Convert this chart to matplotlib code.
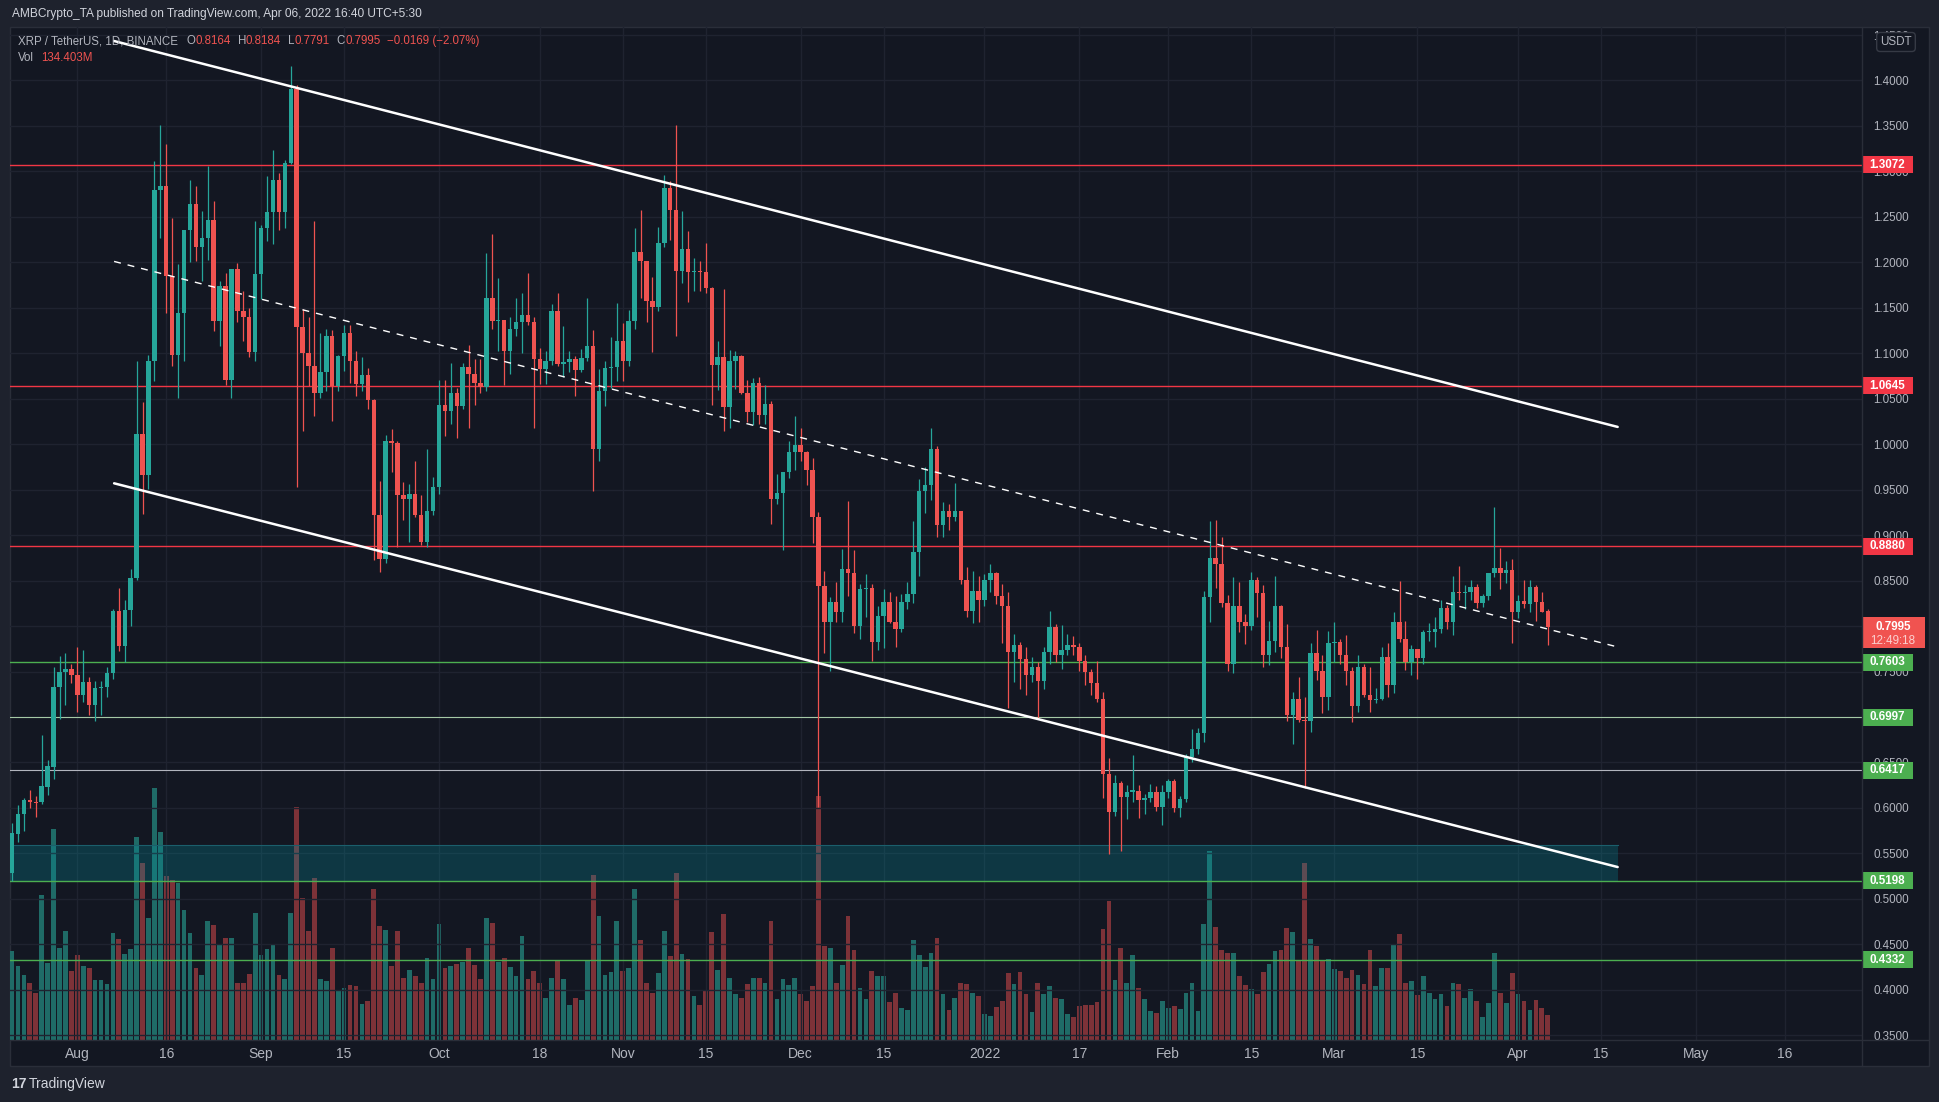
import matplotlib
matplotlib.use('Agg')
import matplotlib.pyplot as plt
import matplotlib.dates as mdates
import matplotlib.transforms as mtransforms
from matplotlib.patches import Rectangle
from matplotlib.lines import Line2D
import numpy as np
import pandas as pd

plt.rcParams['font.family'] = ['Liberation Sans', 'DejaVu Sans']

# daily XRP/USDT candles, 2021-07-21 .. 2022-04-06
dates = pd.date_range('2021-07-21', '2022-04-06', freq='D')
opens = [0.528, 0.571, 0.593, 0.609, 0.607, 0.606, 0.623, 0.645, 0.733, 0.749, 0.753,
         0.746, 0.724, 0.738, 0.713, 0.732, 0.733, 0.748, 0.817, 0.778, 0.818, 0.853, 1.011, 0.966, 1.091, 1.280,
         1.284, 1.185, 1.098, 1.144, 1.236, 1.264, 1.217, 1.227, 1.247, 1.136, 1.174, 1.071, 1.193, 1.147, 1.140, 1.101,
         1.187, 1.238, 1.255, 1.291, 1.255, 1.309, 1.391, 1.129, 1.100, 1.086, 1.056, 1.079, 1.119, 1.064, 1.097,
         1.122, 1.091, 1.066, 1.076, 1.049, 0.922, 0.874, 1.004, 1.001, 0.944, 0.940, 0.945, 0.922, 0.892, 0.927,
         0.953, 1.043, 1.036, 1.056, 1.042, 1.085, 1.077, 1.067, 1.063, 1.161, 1.135, 1.137, 1.102, 1.127, 1.134, 1.142,
         1.134, 1.094, 1.083, 1.091, 1.146, 1.088, 1.090, 1.094, 1.082, 1.095, 1.108, 0.995, 1.058, 1.084, 1.085,
         1.113, 1.091, 1.136, 1.211, 1.202, 1.158, 1.151, 1.221, 1.282, 1.258, 1.191, 1.215, 1.189, 1.190, 1.189,
         1.172, 1.087, 1.096, 1.041, 1.091, 1.097, 1.056, 1.035, 1.067, 1.032, 1.044, 0.940, 0.946, 0.969,
         0.991, 0.999, 0.991, 0.972, 0.920, 0.844, 0.804, 0.826, 0.815, 0.863, 0.858, 0.800, 0.841, 0.842, 0.782,
         0.811, 0.827, 0.805, 0.797, 0.826, 0.835, 0.881, 0.948, 0.955, 0.995, 0.911, 0.926, 0.920, 0.927, 0.851,
         0.817, 0.839, 0.829, 0.851, 0.858, 0.833, 0.822, 0.772, 0.779, 0.764, 0.746, 0.755, 0.740, 0.771,
         0.799, 0.768, 0.774, 0.779, 0.777, 0.762, 0.750, 0.737, 0.720, 0.637, 0.596, 0.627, 0.612, 0.618, 0.619,
         0.609, 0.611, 0.618, 0.601, 0.618, 0.630, 0.600, 0.610, 0.656, 0.665, 0.682, 0.832, 0.875, 0.868, 0.825,
         0.758, 0.822, 0.805, 0.800, 0.851, 0.836, 0.768, 0.784, 0.822, 0.777, 0.702, 0.720, 0.697, 0.696,
         0.770, 0.751, 0.722, 0.781, 0.783, 0.768, 0.751, 0.712, 0.755, 0.724, 0.719, 0.720, 0.766, 0.735, 0.804,
         0.786, 0.760, 0.775, 0.765, 0.793, 0.794, 0.797, 0.820, 0.805, 0.837, 0.836, 0.837, 0.843, 0.825, 0.833,
         0.858, 0.864, 0.858, 0.862, 0.815, 0.828, 0.824, 0.843, 0.826, 0.8164]
highs = [0.583, 0.603, 0.611, 0.620, 0.613, 0.680, 0.653, 0.755, 0.767, 0.770, 0.758,
         0.777, 0.774, 0.744, 0.740, 0.740, 0.755, 0.819, 0.842, 0.829, 0.863, 1.091, 1.046, 1.098, 1.311, 1.351,
         1.330, 1.249, 1.198, 1.236, 1.291, 1.284, 1.257, 1.306, 1.267, 1.179, 1.188, 1.193, 1.199, 1.169, 1.150, 1.245,
         1.241, 1.295, 1.324, 1.298, 1.313, 1.416, 1.395, 1.149, 1.140, 1.246, 1.122, 1.127, 1.126, 1.098, 1.131,
         1.131, 1.103, 1.096, 1.084, 1.050, 0.960, 1.010, 1.017, 1.003, 0.958, 0.956, 0.982, 0.944, 0.995, 0.964,
         1.071, 1.071, 1.089, 1.062, 1.089, 1.109, 1.094, 1.094, 1.210, 1.231, 1.183, 1.137, 1.140, 1.161, 1.166, 1.188,
         1.140, 1.106, 1.102, 1.154, 1.166, 1.130, 1.102, 1.097, 1.105, 1.161, 1.126, 1.083, 1.091, 1.118, 1.155,
         1.133, 1.148, 1.238, 1.258, 1.202, 1.184, 1.239, 1.296, 1.289, 1.351, 1.257, 1.234, 1.205, 1.201, 1.221,
         1.173, 1.113, 1.171, 1.104, 1.102, 1.098, 1.071, 1.073, 1.074, 1.065, 1.048, 0.967, 0.969, 1.003,
         1.031, 1.018, 0.993, 0.985, 0.925, 0.861, 0.832, 0.848, 0.885, 0.937, 0.884, 0.846, 0.857, 0.846, 0.822,
         0.841, 0.837, 0.833, 0.835, 0.848, 0.915, 0.962, 0.975, 1.018, 0.998, 0.936, 0.934, 0.957, 0.927, 0.865,
         0.861, 0.855, 0.857, 0.868, 0.859, 0.846, 0.837, 0.791, 0.782, 0.777, 0.766, 0.760, 0.777, 0.817,
         0.802, 0.801, 0.791, 0.789, 0.781, 0.768, 0.753, 0.762, 0.728, 0.655, 0.636, 0.630, 0.625, 0.658, 0.625,
         0.615, 0.626, 0.624, 0.625, 0.632, 0.632, 0.613, 0.659, 0.687, 0.688, 0.839, 0.915, 0.917, 0.898, 0.834,
         0.854, 0.848, 0.813, 0.860, 0.854, 0.845, 0.806, 0.855, 0.823, 0.802, 0.727, 0.744, 0.722, 0.781,
         0.796, 0.768, 0.795, 0.804, 0.786, 0.790, 0.755, 0.768, 0.758, 0.755, 0.732, 0.777, 0.781, 0.815, 0.850,
         0.806, 0.779, 0.775, 0.796, 0.803, 0.810, 0.829, 0.823, 0.855, 0.866, 0.845, 0.851, 0.846, 0.835, 0.858,
         0.931, 0.886, 0.872, 0.874, 0.834, 0.851, 0.851, 0.845, 0.837, 0.8184]
lows = [0.520, 0.562, 0.575, 0.600, 0.590, 0.604, 0.614, 0.632, 0.698, 0.713, 0.737,
        0.705, 0.717, 0.702, 0.696, 0.702, 0.722, 0.742, 0.773, 0.760, 0.800, 0.851, 0.923, 0.951, 1.069, 1.227,
        1.144, 1.086, 1.051, 1.091, 1.200, 1.202, 1.179, 1.203, 1.124, 1.108, 1.065, 1.051, 1.134, 1.113, 1.096, 1.092,
        1.160, 1.224, 1.220, 1.236, 1.238, 1.308, 0.953, 1.014, 1.064, 1.031, 1.051, 1.058, 1.025, 1.058, 1.080,
        1.067, 1.053, 1.058, 1.039, 0.873, 0.860, 0.869, 0.969, 0.887, 0.917, 0.893, 0.920, 0.889, 0.887, 0.922,
        0.945, 1.009, 1.022, 1.007, 1.039, 1.018, 1.043, 1.056, 1.058, 1.127, 1.102, 1.065, 1.077, 1.119, 1.100, 1.131,
        1.018, 1.066, 1.066, 1.087, 1.086, 1.074, 1.079, 1.053, 1.079, 1.091, 0.949, 0.982, 1.042, 1.062, 1.070,
        1.070, 1.086, 1.127, 1.161, 1.134, 1.101, 1.146, 1.217, 1.225, 1.119, 1.177, 1.156, 1.169, 1.169, 1.166,
        1.043, 1.060, 1.015, 1.018, 1.061, 1.055, 1.024, 1.021, 1.022, 1.022, 0.912, 0.934, 0.884, 0.963,
        0.972, 0.981, 0.955, 0.891, 0.601, 0.770, 0.751, 0.805, 0.805, 0.833, 0.792, 0.786, 0.810, 0.762, 0.774,
        0.776, 0.803, 0.777, 0.793, 0.819, 0.825, 0.855, 0.924, 0.939, 0.898, 0.898, 0.906, 0.915, 0.846, 0.810,
        0.803, 0.804, 0.822, 0.837, 0.824, 0.781, 0.710, 0.739, 0.731, 0.724, 0.739, 0.698, 0.731, 0.758,
        0.760, 0.753, 0.768, 0.768, 0.751, 0.735, 0.724, 0.717, 0.611, 0.549, 0.591, 0.553, 0.588, 0.606, 0.589,
        0.593, 0.606, 0.597, 0.581, 0.611, 0.596, 0.590, 0.606, 0.651, 0.659, 0.672, 0.804, 0.842, 0.821, 0.751,
        0.748, 0.794, 0.780, 0.796, 0.810, 0.755, 0.757, 0.771, 0.765, 0.696, 0.670, 0.694, 0.622, 0.684,
        0.741, 0.704, 0.708, 0.761, 0.758, 0.735, 0.695, 0.705, 0.722, 0.705, 0.715, 0.719, 0.722, 0.726, 0.782,
        0.752, 0.746, 0.742, 0.758, 0.784, 0.777, 0.792, 0.797, 0.790, 0.829, 0.819, 0.829, 0.820, 0.821, 0.829,
        0.854, 0.841, 0.847, 0.781, 0.809, 0.820, 0.815, 0.806, 0.815, 0.7791]
closes = [0.572, 0.593, 0.609, 0.607, 0.605, 0.624, 0.646, 0.733, 0.749, 0.753, 0.746,
          0.724, 0.738, 0.713, 0.732, 0.733, 0.748, 0.817, 0.778, 0.818, 0.853, 1.011, 0.966, 1.091, 1.280, 1.284,
          1.185, 1.098, 1.144, 1.236, 1.264, 1.217, 1.227, 1.247, 1.136, 1.174, 1.071, 1.193, 1.147, 1.140, 1.101, 1.187,
          1.238, 1.255, 1.291, 1.255, 1.309, 1.391, 1.129, 1.100, 1.086, 1.056, 1.079, 1.119, 1.064, 1.097, 1.122,
          1.091, 1.066, 1.076, 1.049, 0.922, 0.874, 1.004, 1.001, 0.944, 0.940, 0.945, 0.922, 0.892, 0.927, 0.953,
          1.043, 1.036, 1.056, 1.042, 1.085, 1.077, 1.067, 1.063, 1.161, 1.135, 1.137, 1.102, 1.127, 1.134, 1.142, 1.134,
          1.094, 1.083, 1.091, 1.146, 1.088, 1.090, 1.094, 1.082, 1.095, 1.108, 0.995, 1.058, 1.084, 1.085, 1.113,
          1.091, 1.136, 1.211, 1.202, 1.158, 1.151, 1.221, 1.282, 1.258, 1.191, 1.215, 1.189, 1.190, 1.189, 1.172,
          1.087, 1.096, 1.041, 1.091, 1.097, 1.056, 1.035, 1.067, 1.032, 1.044, 0.940, 0.946, 0.969, 0.991,
          0.999, 0.991, 0.972, 0.920, 0.844, 0.804, 0.826, 0.815, 0.863, 0.858, 0.800, 0.841, 0.842, 0.782, 0.811,
          0.827, 0.805, 0.797, 0.826, 0.835, 0.881, 0.948, 0.955, 0.995, 0.911, 0.926, 0.920, 0.927, 0.851, 0.817,
          0.839, 0.829, 0.851, 0.858, 0.833, 0.822, 0.772, 0.779, 0.764, 0.746, 0.755, 0.740, 0.771, 0.799,
          0.768, 0.774, 0.779, 0.777, 0.762, 0.750, 0.737, 0.720, 0.637, 0.596, 0.627, 0.612, 0.618, 0.619, 0.609,
          0.611, 0.618, 0.601, 0.618, 0.630, 0.600, 0.610, 0.656, 0.665, 0.682, 0.832, 0.875, 0.868, 0.825, 0.758,
          0.822, 0.805, 0.800, 0.851, 0.836, 0.768, 0.784, 0.822, 0.777, 0.702, 0.720, 0.697, 0.696, 0.770,
          0.751, 0.722, 0.781, 0.783, 0.768, 0.751, 0.712, 0.755, 0.724, 0.719, 0.720, 0.766, 0.735, 0.804, 0.786,
          0.760, 0.775, 0.765, 0.793, 0.794, 0.797, 0.820, 0.805, 0.837, 0.836, 0.837, 0.843, 0.825, 0.833, 0.858,
          0.864, 0.858, 0.862, 0.815, 0.828, 0.824, 0.843, 0.826, 0.816, 0.7995]
# volume in millions
volumes = [477, 396, 349, 309, 252, 780, 413, 1132, 497, 585, 370,
           457, 396, 386, 323, 323, 299, 575, 541, 460, 487, 1089, 954, 655, 1357, 1116,
           880, 860, 843, 699, 575, 386, 349, 638, 618, 514, 551, 548, 306, 306, 353, 685,
           457, 487, 511, 349, 326, 685, 1250, 766, 585, 870, 326, 316, 494, 269, 282,
           296, 289, 192, 208, 810, 612, 591, 396, 585, 336, 376, 343, 306, 440, 326,
           622, 386, 396, 407, 417, 494, 403, 326, 655, 628, 417, 440, 390, 343, 558, 329,
           373, 309, 228, 336, 430, 326, 188, 228, 215, 430, 887, 665, 349, 363, 638,
           370, 386, 810, 538, 309, 255, 360, 585, 450, 900, 460, 433, 235, 188, 262,
           578, 376, 675, 336, 245, 225, 299, 333, 336, 306, 638, 218, 326, 296,
           333, 245, 208, 289, 1310, 504, 494, 309, 403, 665, 484, 279, 218, 370, 343,
           343, 202, 255, 171, 161, 538, 457, 390, 467, 551, 245, 161, 228, 309, 299,
           255, 235, 138, 128, 175, 208, 360, 299, 363, 245, 148, 306, 245, 289,
           225, 218, 138, 121, 181, 188, 188, 202, 595, 746, 323, 497, 309, 457, 282,
           218, 155, 144, 208, 171, 181, 165, 255, 306, 155, 622, 1015, 605, 484, 467,
           467, 343, 296, 272, 245, 363, 407, 477, 484, 601, 578, 423, 954, 541,
           504, 430, 437, 380, 370, 333, 376, 349, 299, 484, 289, 386, 386, 511, 568,
           306, 316, 242, 343, 255, 218, 245, 181, 309, 299, 228, 272, 208, 121, 198,
           467, 255, 198, 360, 245, 208, 161, 215, 171, 134.4]

price_ticks = np.arange(0.35, 1.4501, 0.05)
hidden_ticks = [0.70, 0.80]   # fully covered by level badges
time_tick_dates = ['2021-08-01', '2021-08-16', '2021-09-01', '2021-09-15', '2021-10-01', '2021-10-18',
                   '2021-11-01', '2021-11-15', '2021-12-01', '2021-12-15', '2022-01-01', '2022-01-17',
                   '2022-02-01', '2022-02-15', '2022-03-01', '2022-03-15', '2022-04-01', '2022-04-15',
                   '2022-05-01', '2022-05-16']
time_tick_labels = ['Aug', '16', 'Sep', '15', 'Oct', '18', 'Nov', '15', 'Dec', '15', '2022', '17',
                    'Feb', '15', 'Mar', '15', 'Apr', '15', 'May', '16']

# drawn levels and channel
red_levels = [1.3072, 1.0645, 0.8880]
green_levels = [0.7603, 0.6997, 0.6417, 0.5198, 0.4332]
channel_start, channel_end = '2021-08-07 05:00', '2022-04-17 19:00'
upper_line = [1.4434, 1.0190]
middle_line = [1.2010, 0.7770]
lower_line = [0.9570, 0.5350]
zone_low, zone_high = 0.5198, 0.5594

BG = '#131722'
OUTER = '#1e222d'
UP = '#26a69a'
DOWN = '#ef5350'
TXT = '#b2b5be'

W, H = 1940, 1102
fig = plt.figure(figsize=(W / 100, H / 100), dpi=100, facecolor=OUTER)

# chart panel
fig.patches.append(Rectangle((10 / W, 1 - 1066 / H), 1919 / W, 1039 / H, transform=fig.transFigure,
                             facecolor=BG, edgecolor='#2a2e39', lw=1, zorder=-5))

ax = fig.add_axes([10 / W, 1 - 1040 / H, 1852 / W, 1013 / H])
axv = ax.twinx()
ax.set_zorder(axv.get_zorder() + 1)
ax.patch.set_visible(False)
axv.set_facecolor(BG)

x = mdates.date2num(dates)
o = np.array(opens)
h = np.array(highs)
l = np.array(lows)
c = np.array(closes)
up = c >= o
cols = np.where(up, UP, DOWN)
vcols = np.where(up, '#1f6b67', '#7d3238')

# volume
axv.bar(x, volumes, width=0.8, color=vcols, linewidth=0)
axv.set_ylim(0, 5446)
axv.set_yticks([])
for s in axv.spines.values():
    s.set_visible(False)

# levels
for lv in red_levels:
    ax.axhline(lv, color='#f23645', lw=1.0, zorder=2)
ax.axhline(green_levels[0], color='#4caf50', lw=1.0, zorder=2)
ax.axhline(green_levels[1], color='#a5c9a6', lw=0.8, zorder=2)
ax.axhline(green_levels[2], color='#b2b5be', lw=0.8, zorder=2)
ax.axhline(green_levels[3], color='#4caf50', lw=1.0, zorder=2)
ax.axhline(green_levels[4], color='#4caf50', lw=1.0, zorder=2)

# demand zone
z0 = mdates.date2num(pd.Timestamp('2021-07-15'))
z1 = mdates.date2num(pd.Timestamp(channel_end))
ax.add_patch(Rectangle((z0, zone_low), z1 - z0, zone_high - zone_low, facecolor='#0097a7', alpha=0.25,
                       edgecolor='none', zorder=1))
ax.plot([z0, z1], [zone_high, zone_high], color='#1b5f6c', lw=0.8, zorder=1)

# candles
ax.vlines(x, l, h, colors=cols, lw=0.9, zorder=3)
body = np.maximum(np.abs(c - o), 0.0012)
ax.bar(x, body, bottom=np.minimum(o, c), width=0.75, color=cols, linewidth=0, zorder=4)

# channel
cx = mdates.date2num([pd.Timestamp(channel_start), pd.Timestamp(channel_end)])
ax.plot(cx, upper_line, color='white', lw=1.8, zorder=5, solid_capstyle='round')
ax.plot(cx, lower_line, color='white', lw=1.8, zorder=5, solid_capstyle='round')
ax.plot(cx, middle_line, color='white', lw=1.0, ls=(0, (5, 5)), zorder=5)

# axes
x0 = mdates.date2num(pd.Timestamp('2021-08-01'))
ax.set_xlim(x0 - 11.35, x0 + 301.0)
ax.set_ylim(0.3448, 1.4588)
ax.set_yticks(price_ticks)
ax.set_yticklabels(['' if any(abs(t - ht) < 1e-6 for ht in hidden_ticks) else '%.4f' % t
                    for t in price_ticks])
ax.yaxis.tick_right()
ax.tick_params(axis='y', length=0, pad=8, labelsize=8.4, colors=TXT)
ax.set_xticks(mdates.date2num(pd.to_datetime(time_tick_dates)))
ax.set_xticklabels(time_tick_labels)
ax.tick_params(axis='x', length=0, pad=5, labelsize=10, colors=TXT)
for lab in ax.get_xticklabels():
    lab.set_family(['Liberation Sans Narrow', 'Liberation Sans', 'DejaVu Sans'])
ax.grid(True, color='#1f2330', lw=1.0, zorder=0)
axv.grid(False)
for s in ax.spines.values():
    s.set_visible(False)
ax.set_axisbelow(True)

# axis separators
fig.add_artist(Line2D([1862 / W, 1862 / W], [1 - 27 / H, 1 - 1066 / H], color='#2a2e39', lw=1))
fig.add_artist(Line2D([10 / W, 1929 / W], [1 - 1040 / H, 1 - 1040 / H], color='#2a2e39', lw=1))

# price badges
trans = mtransforms.blended_transform_factory(ax.transAxes, ax.transData)
bw = 51 / 1852
bh = 17 / 908.5
for lv in red_levels:
    ax.add_patch(Rectangle((1.0, lv - bh / 2), bw, bh, transform=trans, facecolor='#f23645',
                           edgecolor='none', clip_on=False, zorder=10))
    ax.text(1.0 + bw / 2, lv, '%.4f' % lv, transform=trans, ha='center', va='center', color='white',
            fontsize=8.4, fontweight='bold', clip_on=False, zorder=11)
for lv in green_levels:
    ax.add_patch(Rectangle((1.0, lv - bh / 2), bw, bh, transform=trans, facecolor='#4caf50',
                           edgecolor='none', clip_on=False, zorder=10))
    ax.text(1.0 + bw / 2, lv, '%.4f' % lv, transform=trans, ha='center', va='center', color='white',
            fontsize=8.4, fontweight='bold', clip_on=False, zorder=11)
last = closes[-1]
ax.add_patch(Rectangle((1.0, last - 21 / 908.5), 63 / 1852, 31 / 908.5, transform=trans,
                       facecolor='#f05350', edgecolor='none', clip_on=False, zorder=10))
ax.text(1.0 + 31 / 1852, last, '%.4f' % last, transform=trans, ha='center', va='center', color='white',
        fontsize=8.4, fontweight='bold', clip_on=False, zorder=11)
ax.text(1.0 + 31 / 1852, last - 14 / 908.5, '12:49:18', transform=trans, ha='center', va='center',
        color='#fbd0cf', fontsize=8.4, clip_on=False, zorder=11)

fig.text(1896 / W, 1 - 42 / H, 'USDT', ha='center', va='center', color=TXT, fontsize=8.4,
         bbox=dict(boxstyle='round,pad=0.3', fc=BG, ec='#363a45', lw=1), zorder=12)

# header
fig.text(12 / W, 1 - 14 / H, 'AMBCrypto_TA published on TradingView.com, Apr 06, 2022 16:40 UTC+5:30',
         ha='left', va='center', color='#d1d4dc', fontsize=8.6)

pieces = [('XRP / TetherUS, 1D, BINANCE', TXT, 0), ('O', TXT, 6), ('0.8164', DOWN, 0), ('H', TXT, 5),
          ('0.8184', DOWN, 0), ('L', TXT, 5), ('0.7791', DOWN, 0), ('C', TXT, 5), ('0.7995', DOWN, 0),
          ('\u22120.0169 (\u22122.07%)', DOWN, 5)]
prev = fig.text(18 / W, 1 - 41 / H, pieces[0][0], ha='left', va='center', color=pieces[0][1], fontsize=8.3)
for txt, col, gap in pieces[1:]:
    prev = ax.annotate(txt, xy=(1, 0), xycoords=prev, xytext=(gap, 0), textcoords='offset points',
                       ha='left', va='bottom', color=col, fontsize=8.3)
vt = fig.text(18 / W, 1 - 58 / H, 'Vol', ha='left', va='center', color=TXT, fontsize=8.3)
ax.annotate('134.403M', xy=(1, 0), xycoords=vt, xytext=(5, 0), textcoords='offset points',
            ha='left', va='bottom', color=DOWN, fontsize=8.3)

# footer
fig.text(11 / W, 1 - 1084 / H, '17', ha='left', va='center', color='#d1d4dc', fontsize=10,
         fontweight='bold')
fig.text(29 / W, 1 - 1084 / H, 'TradingView', ha='left', va='center', color='#d1d4dc', fontsize=10,
         family=['Liberation Sans Narrow', 'Liberation Sans'])

fig.savefig('out.png', dpi=100, facecolor=OUTER)
